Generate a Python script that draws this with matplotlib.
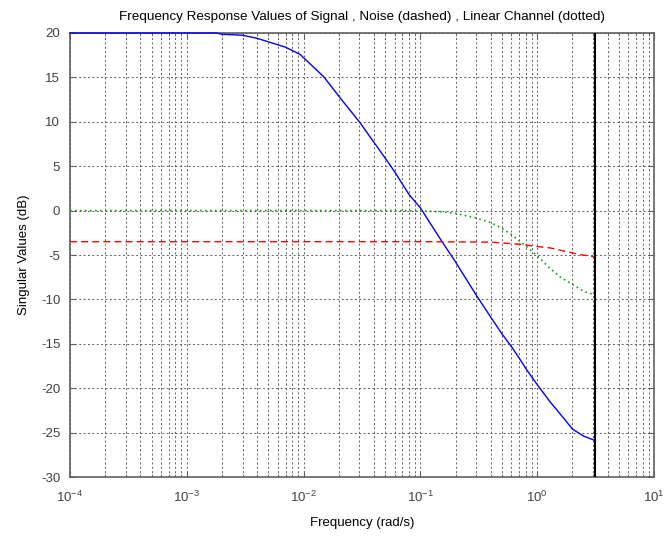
import matplotlib.pyplot as plt
import numpy as np

plt.rcParams['font.family'] = ['Liberation Sans', 'DejaVu Sans']
plt.rcParams['axes.unicode_minus'] = False

# signal (blue, solid)
sig_w = [1e-4, 1.8e-3, 2e-3, 3e-3, 4e-3, 7e-3, 9.3e-3, 0.0148, 0.022, 0.03, 0.05, 0.06,
         0.07, 0.08, 0.1, 0.148, 0.2, 0.3, 0.4, 0.5, 0.6, 0.7, 0.8, 1.0, 1.3, 1.69,
         2.0, 2.5, np.pi]
sig_db = [20, 20, 19.85, 19.75, 19.4, 18.4, 17.6, 15.1, 12.2, 10.0, 5.9, 4.4,
          3.0, 1.8, 0.3, -3.2, -5.8, -9.5, -12.0, -13.9, -15.3, -16.6, -17.8, -19.6, -21.6, -23.4,
          -24.6, -25.4, -25.9]

# noise (red, dashed)
noise_w = [1e-4, 0.1, 0.4, 0.72, 1.0, 1.29, 1.75, 2.3, np.pi]
noise_db = [-3.5, -3.5, -3.55, -3.8, -4.05, -4.2, -4.6, -4.95, -5.2]

# linear channel (green, dotted)
chan_w = [1e-4, 0.06, 0.1, 0.148, 0.2, 0.3, 0.4, 0.5, 0.6, 0.7, 0.8, 1.0, 1.26, 1.58, 2.06, 2.5, np.pi]
chan_db = [0.0, 0.0, -0.05, -0.12, -0.32, -0.83, -1.35, -2.0, -2.7, -3.4, -4.0, -5.1, -6.4, -7.5, -8.4, -9.1, -9.5]

nyquist = np.pi

fig = plt.figure(figsize=(6.64, 5.39), dpi=100)
ax = fig.add_axes([0.1054, 0.115, 0.8796, 0.8238])

ax.semilogx(sig_w, sig_db, color='#0000ff', lw=1.0, zorder=3, clip_on=False)
ax.semilogx(noise_w, noise_db, color='#ff0000', lw=1.0, linestyle=(0, (5, 3)), zorder=3)
ax.semilogx(chan_w, chan_db, color='#10a010', lw=1.2, linestyle=(0, (1, 2)), zorder=3)
ax.axvline(nyquist, color='black', lw=1.5, zorder=3)

ax.set_xlim(1e-4, 10)
ax.set_ylim(-30, 20)
ax.set_yticks(np.arange(-30, 21, 5))

ax.grid(True, which='major', color='#606060', linestyle=(0, (2, 2.5)), lw=0.7)
ax.grid(True, which='minor', axis='x', color='#606060', linestyle=(0, (2, 2.5)), lw=0.7)

for s in ax.spines.values():
    s.set_color('#606060')
    s.set_linewidth(1.2)
ax.tick_params(which='both', direction='in', top=True, right=True, colors='#606060',
               labelcolor='#404040', labelsize=9.5)
ax.tick_params(which='major', length=4)
ax.tick_params(which='minor', length=2)
ax.tick_params(axis='x', which='major', pad=9)
ax.tick_params(axis='y', which='major', pad=7)

ax.set_title('Frequency Response Values of Signal , Noise (dashed) , Linear Channel (dotted)',
             fontsize=9.7, pad=9)
ax.set_xlabel('Frequency (rad/s)', fontsize=9.5, labelpad=9)
ax.set_ylabel('Singular Values (dB)', fontsize=9.5, labelpad=8)

fig.savefig('out.png', dpi=100)
